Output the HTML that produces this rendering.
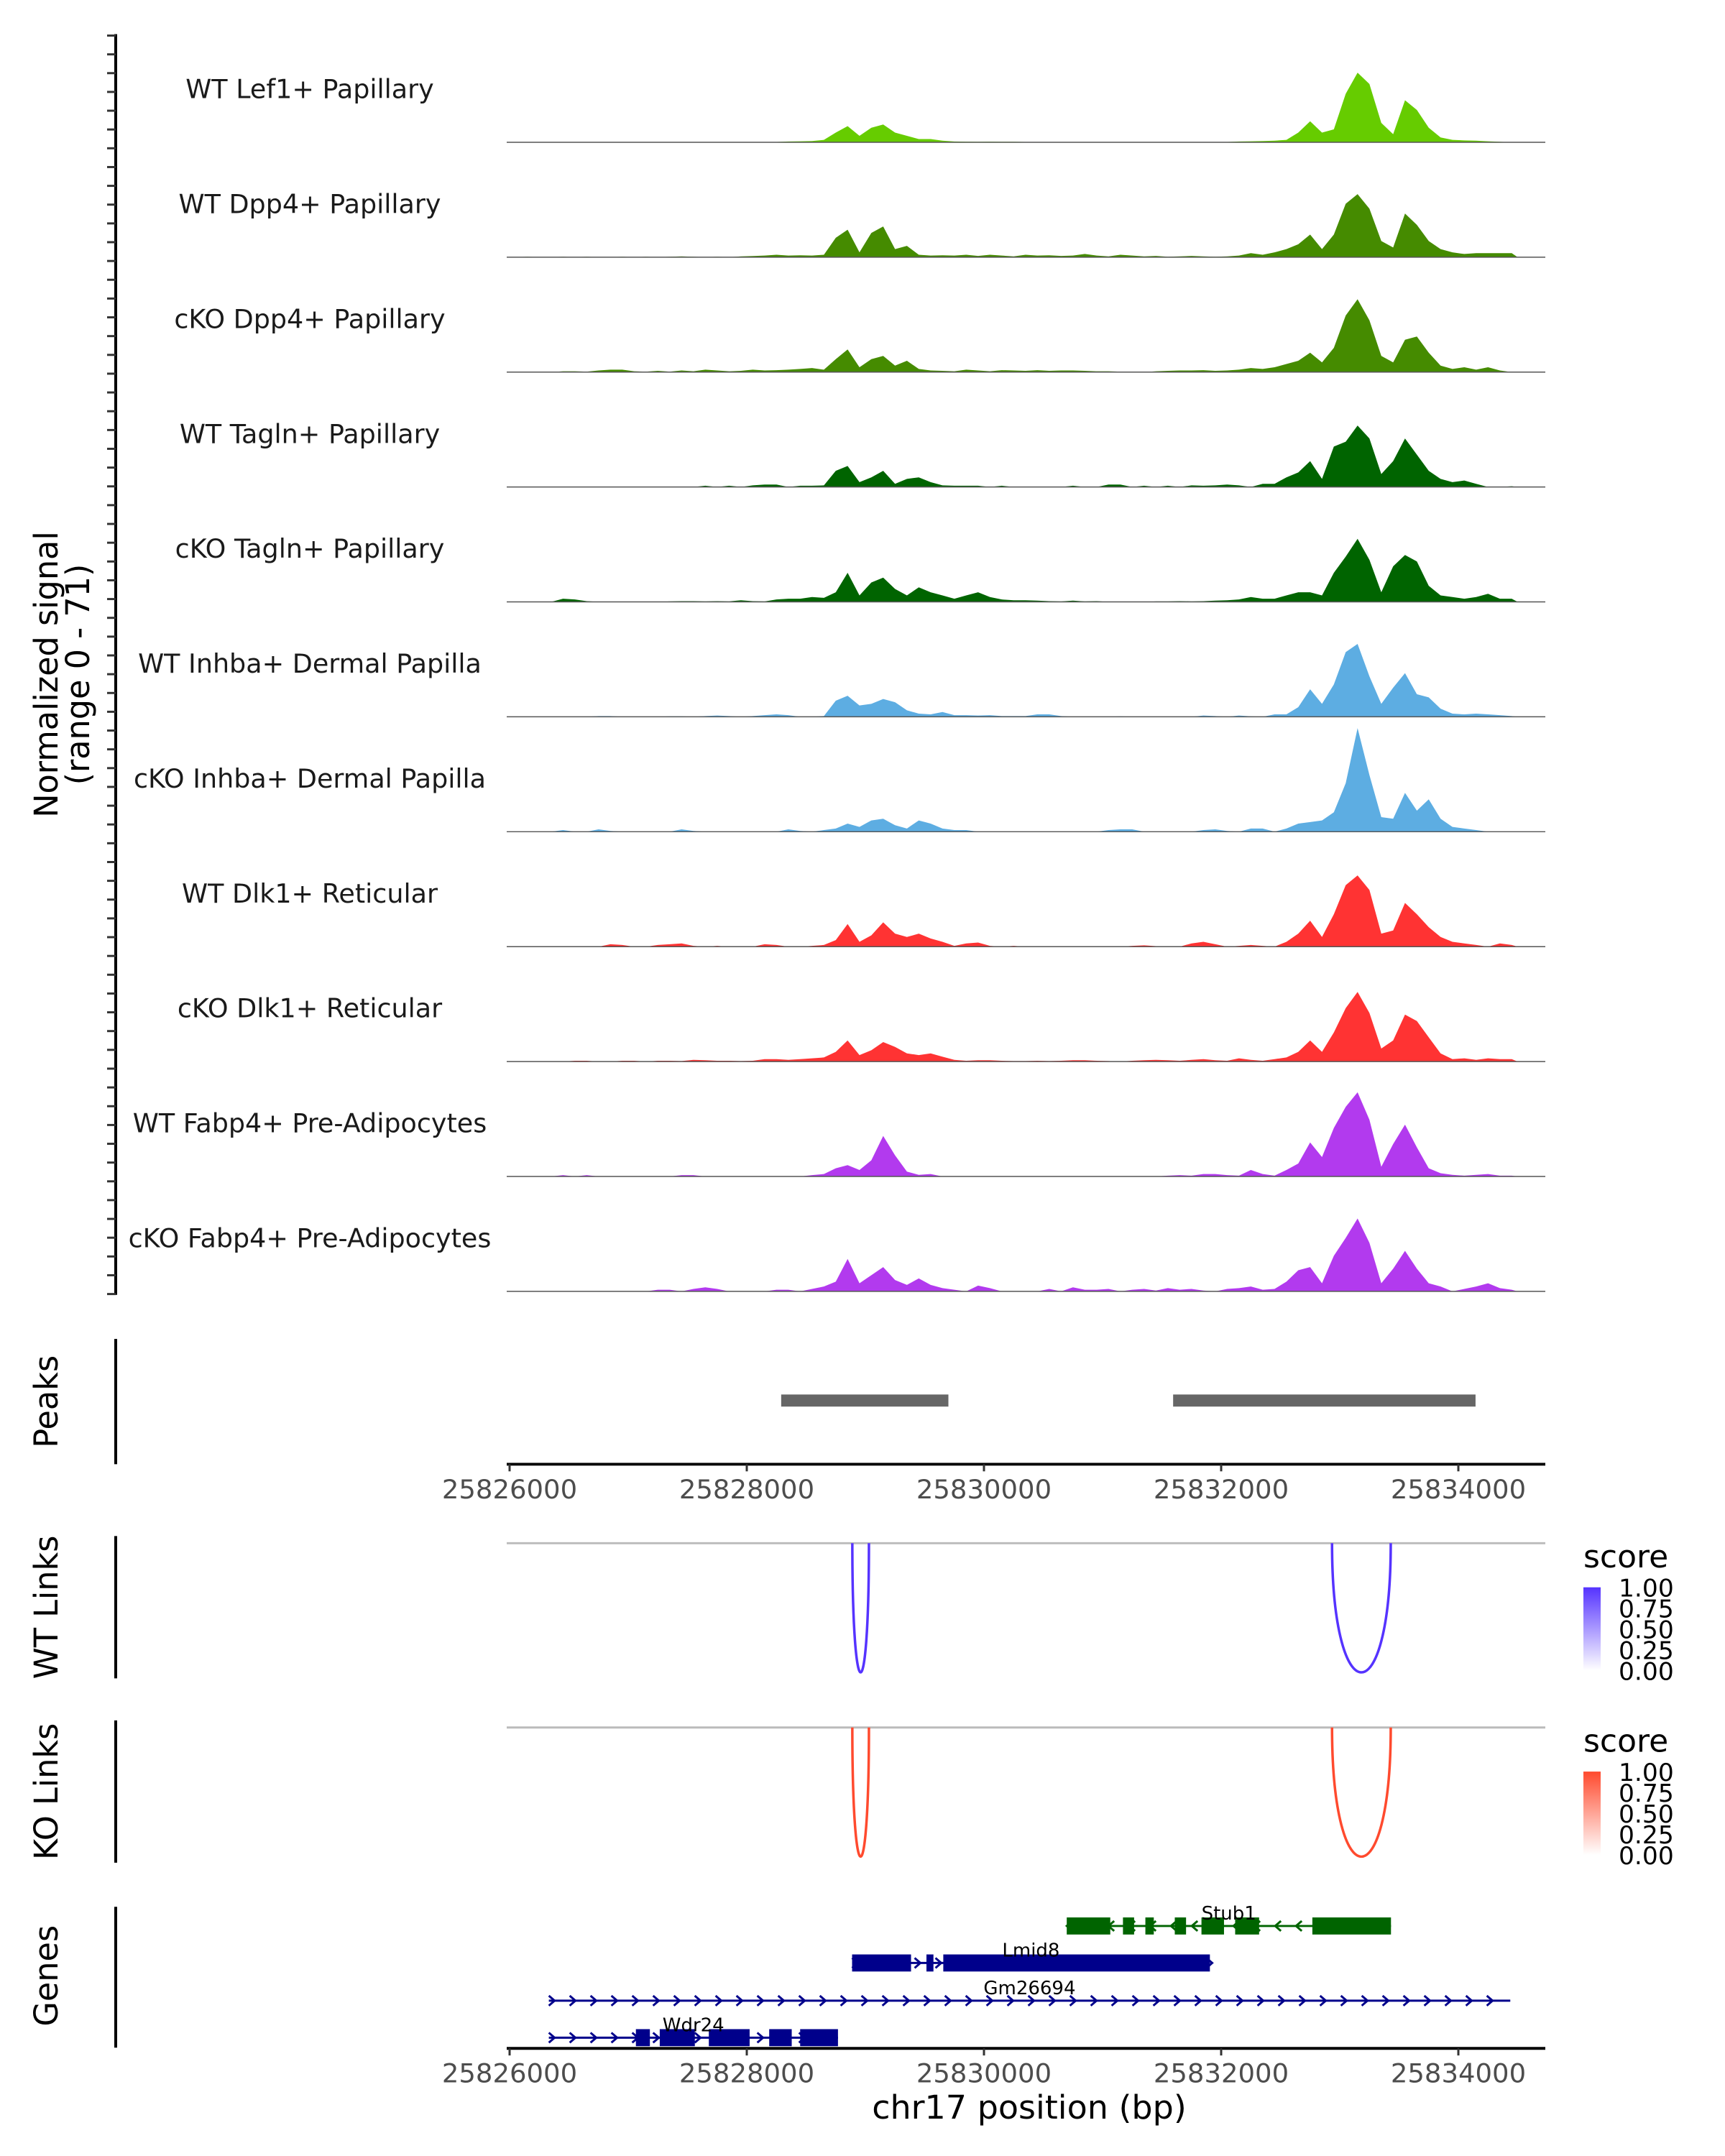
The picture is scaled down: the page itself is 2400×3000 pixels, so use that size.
<!DOCTYPE html>
<html><head><meta charset="utf-8"><style>
html,body{margin:0;padding:0;background:#fff}
svg{display:block;font-family:"DejaVu Sans","Liberation Sans",sans-serif}
</style></head><body>
<svg id="chart" xmlns="http://www.w3.org/2000/svg" width="2400" height="3000" viewBox="0 0 2400 3000">
<rect width="2400" height="3000" fill="#fff"/>
<g transform="scale(1,0.99)">
<g id="tracks"></g>
<g id="yaxis"></g>
<text transform="translate(80,948) rotate(-90)" text-anchor="middle" font-size="45" fill="#000">Normalized signal</text>
<text transform="translate(124,948) rotate(-90)" text-anchor="middle" font-size="45" fill="#000">(range 0 - 71)</text>
<g id="peaks"></g>
<g id="links"></g>
<g id="genes"></g>
</g>
</svg>
<script>
const trackNames = ["WT Lef1+ Papillary","WT Dpp4+ Papillary","cKO Dpp4+ Papillary","WT Tagln+ Papillary","cKO Tagln+ Papillary","WT Inhba+ Dermal Papilla","cKO Inhba+ Dermal Papilla","WT Dlk1+ Reticular","cKO Dlk1+ Reticular","WT Fabp4+ Pre-Adipocytes","cKO Fabp4+ Pre-Adipocytes"];
const trackColors = ["#66cc00","#458b00","#458b00","#006400","#006400","#5dade2","#5dade2","#ff3333","#ff3333","#b23aee","#b23aee"];
const binStart = 25826000;
const binSize = 100;
const signalMax = 71;
const sigLef1WT = [0.2,0.2,0.2,0.2,0.2,0.2,0.2,0.2,0.2,0.2, 0.2,0.2,0.2,0.2,0.2,0.2,0.2,0.2,0.2,0.2, 0.2,0.2,0.2,0.5,0.6,0.8,1.5,6,10,4, 9,11,6,4,2,2,1,0.5,0.4,0.3, 0.4,0.3,0.3,0.2,0.2,0.2,0.2,0.2,0.2,0.2, 0.2,0.2,0.2,0.2,0.2,0.2,0.2,0.2,0.2,0.2, 0.2,0.5,0.6,0.8,1,1.5,6,13,6,8, 30,43,36,12,5,26,20,9,3,1.5, 1.2,1,0.6,0.3,0];
const sigDpp4WT = [0,0.3,0,0,0.3,0,0.3,0,0,0.3, 0,0.3,0,0.3,0.5,0.3,0,0.3,0,0.5, 0.7,1,1.5,1,1.2,1,1.5,12,17,3, 15,19,5,7,1.5,1,1.2,1,1.5,0.8, 1.5,1,0.5,1.5,1,1.2,0.8,1,2,1, 0.5,1.5,1,0.5,0.8,0.3,0.5,0.8,0.5,0.3, 0.5,1,2.5,1.5,3,5,8,14,5,14, 33,39,30,10,6,27,20,10,5,3, 2,2.5,2.5,2.5,2.5];
const sigDpp4KO = [0,0,0,0,0.5,0.5,0.3,1,1.5,1.5, 0.5,0.3,0.8,0.3,1,0.5,1.5,1,0.5,0.8, 1.5,1,1.2,1.5,2,2.5,1.5,8,14,3, 8,10,4,7,2,1,0.8,0.5,1.5,1, 0.5,1.2,1,0.8,1.2,0.8,1,1,0.8,0.5, 0.5,0.3,0,0,0.5,0.8,1,1,1.2,0.8, 1,1.5,2.5,2,3,5,7,12,6,15, 35,45,32,10,6,20,22,12,4,2, 3,1.5,3,1,0];
const sigTaglnWT = [0,0,0,0,0,0,0,0,0,0, 0,0,0,0,0,0,0.8,0,0.8,0, 1,1.5,1.5,0,0.8,0.8,1,10,13,3, 6,10,2,5,6,3,1,0.8,0.8,0.8, 0,0.8,0,0,0,0,0,0.8,0,0, 1.5,1.5,0,0.8,0,0.8,0,1,0.8,1, 1.5,1,0,2,2,6,9,16,5,25, 28,38,30,8,16,30,20,10,5,3, 4,2,0,0,0.5];
const sigTaglnKO = [0,0,0,0,2,1.5,0.5,0,0,0, 0,0,0,0.3,0.5,0.5,0.3,0.5,0.3,1, 0.5,0.3,1.5,2,2,3,2.5,6,18,4, 12,15,8,4,9,6,4,2,4,6, 3,1.5,1,1,0.8,0.5,0.3,0.8,0.3,0.5, 0,0,0,0,0.3,0.3,0.5,0.3,0.5,0.8, 1,1.5,3,2,2,4,6,6,4,18, 28,39,26,6,22,29,25,10,4,3, 2,3,5,2,2];
const sigInhbaWT = [0,0,0,0,0,0,0,0.5,0.5,0, 0,0,0,0.3,0.3,0,0.5,0.8,0.5,0, 0.5,1,1.5,1,0,0,0.5,10,13,7, 8,11,9,4,2,1.5,3,1,1,0.8, 1,0.5,0.5,0.5,1.5,1.5,0.5,0,0,0, 0,0.3,0,0,0,0,0,0,0.8,0.5, 0,0.8,0.3,0,1.5,1.5,6,17,8,20, 40,45,25,8,18,27,14,12,5,2, 1.5,2,1.5,1,0.5];
const sigInhbaKO = [0,0,0,0,1,0,0,1.5,0.5,0, 0,0,0,0,1.5,0.5,0,0,0,0, 0,0,0,1.5,0.5,0,1,2,5,3, 7,8,4,2,7,5,2,1,1,0, 0,0,0,0,0,0,0,0,0,0, 1,1.5,1.5,0,0,0,0,0,1,1.5, 0.5,0,2,2,0,2,5,6,7,12, 30,64,35,9,8,24,13,20,8,3, 2,1,0,0,0];
const sigDlk1WT = [0,0,0,0,0,0,0,0,1.5,1, 0,0,1,1.5,2,0.5,0,0.5,0,0, 0,1.5,1,0,0,0.5,1,4,14,3, 7,15,8,6,8,5,3,0.5,2,2.5, 0.5,0,0.5,0,0.2,0,0,0.2,0,0.3, 0.2,0,0.5,0.8,0.3,0,0,2,3,1.5, 0,0.5,1,0.5,0,3,8,16,6,20, 38,44,35,8,10,27,20,12,6,3, 2,1,0,2,1];
const sigDlk1KO = [0,0,0,0,0,0.5,0.5,0,0,0.5, 0.5,0,0.5,0.5,0.3,1,0.8,0.5,0.5,0.3, 0.5,1.5,1.5,1,1.5,2,2.5,6,13,4, 7,12,9,5,4,5,3,1,0.5,0.8, 0.8,0.5,0.3,0.3,0.5,0.3,0.5,0.8,0.8,0.5, 0.3,0,0.5,0.8,1,0.8,0.5,1,1.5,0.8, 0.5,2,1,0.5,1.5,2.5,6,13,6,18, 33,43,30,8,13,29,25,15,5,1.5, 2,1,2,1.5,1.5];
const sigFabp4WT = [0,0,0,0,0.8,0,0.8,0,0,0, 0,0,0,0,0.8,0.8,0,0,0,0, 0,0,0,0,0,0.8,1.5,5,7,4, 10,25,13,3,1,1.5,0,0,0,0, 0,0,0,0,0,0,0,0,0,0, 0,0,0,0,0,0.5,0.8,0.5,1.5,1.5, 0.8,0.5,4,1.5,0.5,4,8,21,12,30, 43,52,35,6,20,32,18,5,2,1, 0.5,1,1.5,0.5,0.5];
const sigFabp4KO = [0,0,0,0,0,0,0,0,0,0, 0,0,1,1,0,1.5,2.5,1.5,0,0, 0,0,1,1,0,1.5,3,6,20,5, 10,15,7,4,8,4,2,1,0,3.5, 2,0,0,0,0,1.5,0,2.5,1,1, 1.5,0,1,1.5,0.5,2,1,1.5,0.5,0, 1.5,2,3,1,1.5,6,13,15,5,22, 33,45,30,5,14,25,14,5,3,0, 1.5,3,5,2,1];
const trackSignals = [sigLef1WT,sigDpp4WT,sigDpp4KO,sigTaglnWT,sigTaglnKO,sigInhbaWT,sigInhbaKO,sigDlk1WT,sigDlk1KO,sigFabp4WT,sigFabp4KO];
const peakStarts = [25828290, 25831595];
const peakEnds = [25829700, 25834145];
const axisTicks = [25826000, 25828000, 25830000, 25832000, 25834000];
const wtLinkStarts = [25828890, 25832935];
const wtLinkEnds = [25829030, 25833430];
const wtLinkScores = [0.95, 0.95];
const koLinkStarts = [25828890, 25832935];
const koLinkEnds = [25829030, 25833430];
const koLinkScores = [0.95, 0.95];
const legendLabels = ["1.00","0.75","0.50","0.25","0.00"];
const geneNames = ["Stub1","Lmid8","Gm26694","Wdr24"];
const geneStarts = [25830698, 25828888, 25826331, 25826331];
const geneEnds = [25833432, 25831905, 25834438, 25828769];
const geneStrands = [-1, 1, 1, 1];
const geneExons = [
  [[25830698,25831065],[25831172,25831266],[25831361,25831432],[25831609,25831704],[25831834,25832024],[25832118,25832320],[25832769,25833432]],
  [[25828888,25829385],[25829515,25829574],[25829657,25831905]],
  [],
  [[25827065,25827183],[25827266,25827562],[25827680,25828024],[25828189,25828379],[25828450,25828769]]
];
const geneColors = ["#006400","#00008b","#00008b","#00008b"];

const NS = "http://www.w3.org/2000/svg";
function mk(tag, attrs, parent){ const e=document.createElementNS(NS,tag); for(const k in attrs) e.setAttribute(k,attrs[k]); parent.appendChild(e); return e; }
const X0=709, PX_PER_BP=0.165, PLOT_L=705, PLOT_R=2150;
function xScale(bp){ return X0 + (bp-25826000)*PX_PER_BP; }
const TRACK_TOP=200, TRACK_STEP=161.5, TRACK_H=161.5;
function yScale(v, base){ return base - v/signalMax*TRACK_H; }

const tg=document.getElementById('tracks');
trackSignals.forEach((arr,t)=>{
  const base=TRACK_TOP+t*TRACK_STEP;
  const g=mk('g',{},tg);
  
  
  let d='M'+xScale(binStart).toFixed(1)+','+base;
  arr.forEach((v,i)=>{ d+=' L'+xScale(binStart+i*binSize+binSize/2).toFixed(1)+','+yScale(v,base).toFixed(1); });
  d+=' L'+xScale(binStart+arr.length*binSize).toFixed(1)+','+base+' Z';
  const p=mk('path',{d:d,fill:trackColors[t]},g);
  
  
  const l=mk('line',{x1:PLOT_L,x2:PLOT_R,y1:base,y2:base,stroke:'#555','stroke-width':1.5},g);
  
  
  const tx=mk('text',{x:431,y:base-62,'text-anchor':'middle','font-size':36.5,fill:'#1a1a1a'},g);
  tx.textContent=trackNames[t];
  
  
});
const ya=document.getElementById('yaxis');
mk('line',{x1:161,x2:161,y1:48,y2:1820,stroke:'#000','stroke-width':4},ya);
for(let i=0;i<68;i++){ const y=50+i*26.4; mk('line',{x1:149,x2:161,y1:y,y2:y,stroke:'#333','stroke-width':3},ya); }

const pg=document.getElementById('peaks');
mk('line',{x1:161,x2:161,y1:1882,y2:2058,stroke:'#000','stroke-width':4},pg);
const pt=mk('text',{transform:'translate(80,1970) rotate(-90)','text-anchor':'middle','font-size':45},pg); pt.textContent='Peaks';


peakStarts.forEach((s,i)=>{ const r=mk('rect',{x:xScale(s),y:1960,width:xScale(peakEnds[i])-xScale(s),height:17,fill:'#666'},pg);
  
   });
function drawAxis(y, parent, name){
  const g=mk('g',{},parent);
  
  
  mk('line',{x1:PLOT_L,x2:PLOT_R,y1:y,y2:y,stroke:'#000','stroke-width':4},g);
  axisTicks.forEach(t=>{ mk('line',{x1:xScale(t),x2:xScale(t),y1:y,y2:y+10,stroke:'#333','stroke-width':3},g);
    const tx=mk('text',{x:xScale(t),y:y+48,'text-anchor':'middle','font-size':37,fill:'#4d4d4d'},g); tx.textContent=t;
    
     });
}
drawAxis(2058, pg, 'peaks-x-axis');

const lg=document.getElementById('links');
function drawLinks(top, starts, ends, scores, color, title, legendTop){
  mk('line',{x1:161,x2:161,y1:top-10,y2:top+190,stroke:'#000','stroke-width':4},lg);
  const tt=mk('text',{transform:'translate(80,'+(top+90)+') rotate(-90)','text-anchor':'middle','font-size':45},lg); tt.textContent=title;
  
  
  mk('line',{x1:PLOT_L,x2:PLOT_R,y1:top,y2:top,stroke:'#bbb','stroke-width':3},lg);
  starts.forEach((s,i)=>{ const x1=xScale(s), x2=xScale(ends[i]); const depth=182*scores[i]/0.95;
    const a=mk('path',{d:'M'+x1+','+top+' C'+x1+','+(top+depth*1.33)+' '+x2+','+(top+depth*1.33)+' '+x2+','+top,fill:'none',stroke:color,'stroke-width':3.5},lg);
    
     });
  const gid='grad'+title.replace(/\s/g,'');
  const defs=mk('defs',{},lg); const gr=mk('linearGradient',{id:gid,x1:0,y1:0,x2:0,y2:1},defs);
  mk('stop',{offset:0,'stop-color':color},gr); mk('stop',{offset:1,'stop-color':'#fff'},gr);
  const st=mk('text',{x:2203,y:legendTop,'font-size':44},lg); st.textContent='score';
  
  
  const barY=legendTop+28;
  const bar=mk('rect',{x:2203,y:barY,width:24,height:117,fill:'url(#'+gid+')'},lg);
  
  
  legendLabels.forEach((lab,i)=>{ const y=barY+13+i*29.3;
    const t=mk('text',{x:2252,y:y,'font-size':34.5},lg); t.textContent=lab;
    
     });
}
drawLinks(2169, wtLinkStarts, wtLinkEnds, wtLinkScores, '#5533ff', 'WT Links', 2203);
drawLinks(2428, koLinkStarts, koLinkEnds, koLinkScores, '#ff4a2e', 'KO Links', 2462);

const gg=document.getElementById('genes');
mk('line',{x1:161,x2:161,y1:2680,y2:2878,stroke:'#000','stroke-width':4},gg);
const gt=mk('text',{transform:'translate(80,2777) rotate(-90)','text-anchor':'middle','font-size':45},gg); gt.textContent='Genes';


const geneYs=[2707,2759,2812,2864];
geneNames.forEach((n,i)=>{
  const y=geneYs[i], c=geneColors[i];
  const g=mk('g',{},gg);
  
  
  const xs=xScale(geneStarts[i]), xe=xScale(geneEnds[i]);
  mk('line',{x1:xs,x2:xe,y1:y,y2:y,stroke:c,'stroke-width':3},g);
  for(let x=xs+4;x<xe;x+=29){ const dir=geneStrands[i];
    mk('path',{d: dir>0 ? 'M'+(x-4)+','+(y-7)+' L'+(x+4)+','+y+' L'+(x-4)+','+(y+7) : 'M'+(x+4)+','+(y-7)+' L'+(x-4)+','+y+' L'+(x+4)+','+(y+7),fill:'none',stroke:c,'stroke-width':3},g); }
  geneExons[i].forEach(e=>{ mk('rect',{x:xScale(e[0]),y:y-12,width:xScale(e[1])-xScale(e[0]),height:24,fill:c},g); });
  const t=mk('text',{x:(xs+xe)/2,y:y-9,'text-anchor':'middle','font-size':26,fill:'#000'},g); t.textContent=n;
  
  
});
drawAxis(2879, gg, 'genes-x-axis');
const xt=mk('text',{x:1432,y:2978,'text-anchor':'middle','font-size':46},gg); xt.textContent='chr17 position (bp)';


</script>
</body></html>
